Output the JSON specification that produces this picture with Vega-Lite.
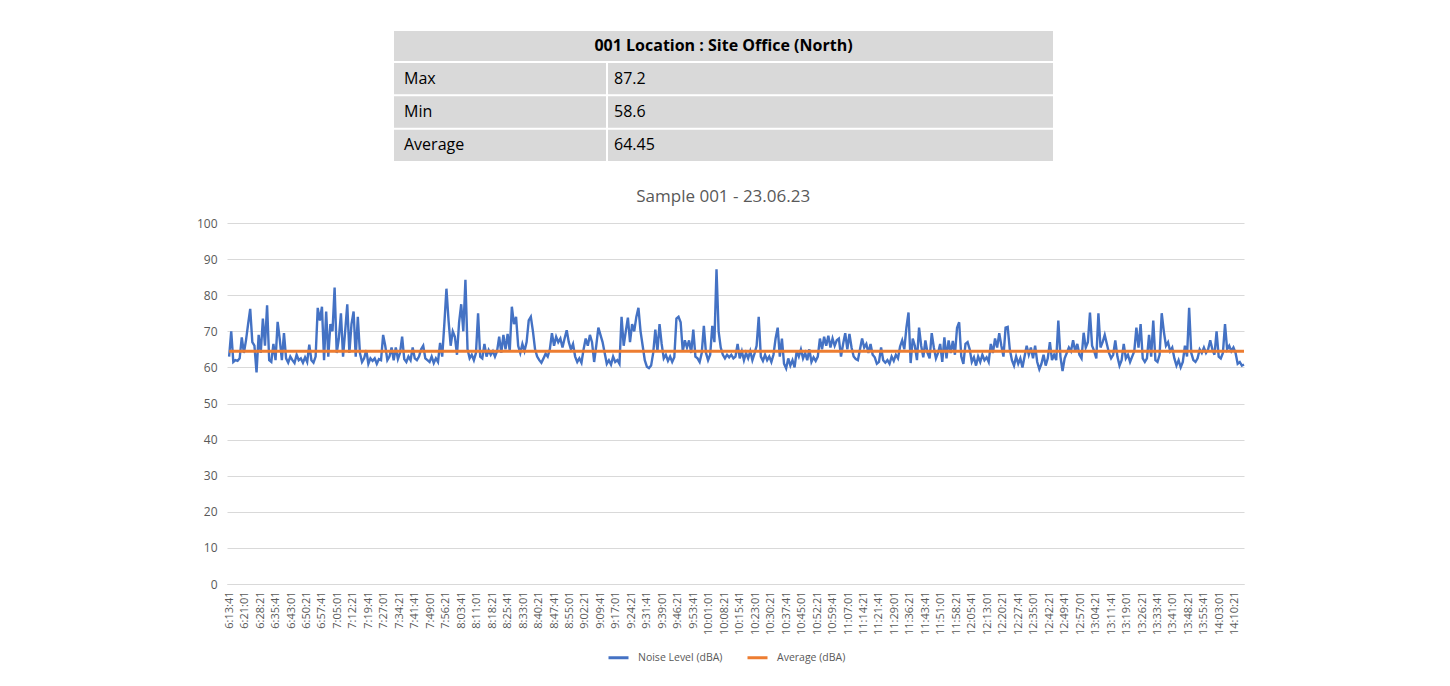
{
"$schema": "https://vega.github.io/schema/vega-lite/v6.json",
"background": "white",
"padding": {"left": 196, "top": 31, "right": 0, "bottom": 0},
"config": {"font": "Open Sans", "view": {"stroke": null}},
"datasets": {
"stats": [{"stat": "Max", "value": 87.2}, {"stat": "Min", "value": 58.6}, {"stat": "Average", "value": 64.45}],
"avg": [{"t": "6:13:41", "v": 64.45}, {"t": "14:14:41", "v": 64.45}],
"noise": [
{"t":"6:13:41","v":63},{"t":"6:14:41","v":70},{"t":"6:15:41","v":61.5},{"t":"6:16:41","v":62},{"t":"6:17:41","v":61.8},{"t":"6:18:41","v":62.5},{"t":"6:19:41","v":68.3},{"t":"6:20:41","v":64},{"t":"6:21:41","v":67.5},{"t":"6:22:41","v":72},{"t":"6:23:41","v":76.2},{"t":"6:24:41","v":67},{"t":"6:25:41","v":66},{"t":"6:26:41","v":58.6},{"t":"6:27:41","v":69},{"t":"6:28:41","v":64},{"t":"6:29:41","v":73.5},{"t":"6:30:41","v":66},{"t":"6:31:41","v":77.2},{"t":"6:32:41","v":62},{"t":"6:33:41","v":61.5},{"t":"6:34:41","v":66.5},{"t":"6:35:41","v":62},{"t":"6:36:41","v":72.6},{"t":"6:37:41","v":67.8},{"t":"6:38:41","v":62},{"t":"6:39:41","v":69.5},{"t":"6:40:41","v":62.5},{"t":"6:41:41","v":61.3},{"t":"6:42:41","v":63},{"t":"6:43:41","v":62},{"t":"6:44:41","v":61.2},{"t":"6:45:41","v":63.5},{"t":"6:46:41","v":62},{"t":"6:47:41","v":62.5},{"t":"6:48:41","v":61.3},{"t":"6:49:41","v":62.8},{"t":"6:50:41","v":61.5},{"t":"6:51:41","v":66.3},{"t":"6:52:41","v":62},{"t":"6:53:41","v":61.3},{"t":"6:54:41","v":63},{"t":"6:55:41","v":76.5},{"t":"6:56:41","v":73},{"t":"6:57:41","v":76.8},{"t":"6:58:41","v":62},{"t":"6:59:41","v":75.5},
{"t":"7:00:41","v":63},{"t":"7:01:41","v":72},{"t":"7:02:41","v":70},{"t":"7:03:41","v":82.1},{"t":"7:04:41","v":64},{"t":"7:05:41","v":68},{"t":"7:06:41","v":75},{"t":"7:07:41","v":63},{"t":"7:08:41","v":70},{"t":"7:09:41","v":77.5},{"t":"7:10:41","v":64},{"t":"7:11:41","v":72},{"t":"7:12:41","v":75.5},{"t":"7:13:41","v":63},{"t":"7:14:41","v":74},{"t":"7:15:41","v":64},{"t":"7:16:41","v":61.5},{"t":"7:17:41","v":62.5},{"t":"7:18:41","v":64.8},{"t":"7:19:41","v":61},{"t":"7:20:41","v":62.5},{"t":"7:21:41","v":61.8},{"t":"7:22:41","v":62.5},{"t":"7:23:41","v":61},{"t":"7:24:41","v":62.3},{"t":"7:25:41","v":62},{"t":"7:26:41","v":69},{"t":"7:27:41","v":66},{"t":"7:28:41","v":62},{"t":"7:29:41","v":63},{"t":"7:30:41","v":65.5},{"t":"7:31:41","v":62},{"t":"7:32:41","v":65.5},{"t":"7:33:41","v":62.3},{"t":"7:34:41","v":64},{"t":"7:35:41","v":68.5},{"t":"7:36:41","v":62.3},{"t":"7:37:41","v":61.5},{"t":"7:38:41","v":63},{"t":"7:39:41","v":62},{"t":"7:40:41","v":65.5},{"t":"7:41:41","v":62.5},{"t":"7:42:41","v":62},{"t":"7:43:41","v":63},{"t":"7:44:41","v":65},{"t":"7:45:41","v":66},{"t":"7:46:41","v":62.5},{"t":"7:47:41","v":62},{"t":"7:48:41","v":61.5},{"t":"7:49:41","v":63},{"t":"7:50:41","v":61.2},{"t":"7:51:41","v":62.5},{"t":"7:52:41","v":61.5},{"t":"7:53:41","v":66.8},{"t":"7:54:41","v":63},{"t":"7:55:41","v":72},{"t":"7:56:41","v":81.8},{"t":"7:57:41","v":73},{"t":"7:58:41","v":66},{"t":"7:59:41","v":70},
{"t":"8:00:41","v":68.5},{"t":"8:01:41","v":63.5},{"t":"8:02:41","v":72.5},{"t":"8:03:41","v":77.5},{"t":"8:04:41","v":70},{"t":"8:05:41","v":84.3},{"t":"8:06:41","v":65},{"t":"8:07:41","v":62.5},{"t":"8:08:41","v":63.5},{"t":"8:09:41","v":62},{"t":"8:10:41","v":64},{"t":"8:11:41","v":75},{"t":"8:12:41","v":63},{"t":"8:13:41","v":62.5},{"t":"8:14:41","v":66.5},{"t":"8:15:41","v":63},{"t":"8:16:41","v":64.8},{"t":"8:17:41","v":63.5},{"t":"8:18:41","v":64.5},{"t":"8:19:41","v":63},{"t":"8:20:41","v":64.5},{"t":"8:21:41","v":68.5},{"t":"8:22:41","v":64},{"t":"8:23:41","v":69},{"t":"8:24:41","v":65},{"t":"8:25:41","v":69.3},{"t":"8:26:41","v":64.5},{"t":"8:27:41","v":76.8},{"t":"8:28:41","v":72},{"t":"8:29:41","v":74},{"t":"8:30:41","v":66},{"t":"8:31:41","v":64},{"t":"8:32:41","v":66.5},{"t":"8:33:41","v":64.5},{"t":"8:34:41","v":67},{"t":"8:35:41","v":73},{"t":"8:36:41","v":74},{"t":"8:37:41","v":70},{"t":"8:38:41","v":65},{"t":"8:39:41","v":63},{"t":"8:40:41","v":62},{"t":"8:41:41","v":61.3},{"t":"8:42:41","v":62.5},{"t":"8:43:41","v":63.8},{"t":"8:44:41","v":63},{"t":"8:45:41","v":65},{"t":"8:46:41","v":69.5},{"t":"8:47:41","v":66},{"t":"8:48:41","v":68.5},{"t":"8:49:41","v":67},{"t":"8:50:41","v":68},{"t":"8:51:41","v":65.5},{"t":"8:52:41","v":68},{"t":"8:53:41","v":70.3},{"t":"8:54:41","v":67},{"t":"8:55:41","v":65},{"t":"8:56:41","v":66.5},{"t":"8:57:41","v":63},{"t":"8:58:41","v":61.5},{"t":"8:59:41","v":62.5},
{"t":"9:00:41","v":61.3},{"t":"9:01:41","v":65},{"t":"9:02:41","v":68},{"t":"9:03:41","v":66},{"t":"9:04:41","v":69},{"t":"9:05:41","v":67},{"t":"9:06:41","v":61.5},{"t":"9:07:41","v":66},{"t":"9:08:41","v":71},{"t":"9:09:41","v":69},{"t":"9:10:41","v":67},{"t":"9:11:41","v":64},{"t":"9:12:41","v":61},{"t":"9:13:41","v":62},{"t":"9:14:41","v":60.8},{"t":"9:15:41","v":63},{"t":"9:16:41","v":61.5},{"t":"9:17:41","v":62},{"t":"9:18:41","v":61},{"t":"9:19:41","v":74},{"t":"9:20:41","v":66},{"t":"9:21:41","v":70},{"t":"9:22:41","v":73.8},{"t":"9:23:41","v":67},{"t":"9:24:41","v":72},{"t":"9:25:41","v":70},{"t":"9:26:41","v":74},{"t":"9:27:41","v":76.5},{"t":"9:28:41","v":70},{"t":"9:29:41","v":66},{"t":"9:30:41","v":62},{"t":"9:31:41","v":60.2},{"t":"9:32:41","v":59.8},{"t":"9:33:41","v":60.5},{"t":"9:34:41","v":64},{"t":"9:35:41","v":70.5},{"t":"9:36:41","v":64.5},{"t":"9:37:41","v":72},{"t":"9:38:41","v":66.5},{"t":"9:39:41","v":62.5},{"t":"9:40:41","v":63.5},{"t":"9:41:41","v":61.8},{"t":"9:42:41","v":63},{"t":"9:43:41","v":61.5},{"t":"9:44:41","v":62.8},{"t":"9:45:41","v":73.5},{"t":"9:46:41","v":74},{"t":"9:47:41","v":72.5},{"t":"9:48:41","v":64.5},{"t":"9:49:41","v":67.5},{"t":"9:50:41","v":65.5},{"t":"9:51:41","v":67.5},{"t":"9:52:41","v":64},{"t":"9:53:41","v":70.5},{"t":"9:54:41","v":63},{"t":"9:55:41","v":62.5},{"t":"9:56:41","v":61.5},{"t":"9:57:41","v":64},{"t":"9:58:41","v":71.5},{"t":"9:59:41","v":64},
{"t":"10:00:41","v":62},{"t":"10:01:41","v":63.5},{"t":"10:02:41","v":71.5},{"t":"10:03:41","v":67},{"t":"10:04:41","v":87.2},{"t":"10:05:41","v":70},{"t":"10:06:41","v":65.5},{"t":"10:07:41","v":63.5},{"t":"10:08:41","v":62.5},{"t":"10:09:41","v":63.5},{"t":"10:10:41","v":62.8},{"t":"10:11:41","v":63.5},{"t":"10:12:41","v":62.5},{"t":"10:13:41","v":63},{"t":"10:14:41","v":66.5},{"t":"10:15:41","v":62.5},{"t":"10:16:41","v":64.5},{"t":"10:17:41","v":62},{"t":"10:18:41","v":64},{"t":"10:19:41","v":62.5},{"t":"10:20:41","v":64.5},{"t":"10:21:41","v":62},{"t":"10:22:41","v":63.8},{"t":"10:23:41","v":66},{"t":"10:24:41","v":74},{"t":"10:25:41","v":63},{"t":"10:26:41","v":61.8},{"t":"10:27:41","v":63.5},{"t":"10:28:41","v":62},{"t":"10:29:41","v":63},{"t":"10:30:41","v":61.5},{"t":"10:31:41","v":63.5},{"t":"10:32:41","v":68},{"t":"10:33:41","v":71},{"t":"10:34:41","v":63},{"t":"10:35:41","v":68},{"t":"10:36:41","v":61},{"t":"10:37:41","v":59.7},{"t":"10:38:41","v":62.5},{"t":"10:39:41","v":60.5},{"t":"10:40:41","v":62},{"t":"10:41:41","v":60},{"t":"10:42:41","v":64.5},{"t":"10:43:41","v":63},{"t":"10:44:41","v":65},{"t":"10:45:41","v":62.5},{"t":"10:46:41","v":64},{"t":"10:47:41","v":62},{"t":"10:48:41","v":65},{"t":"10:49:41","v":61.5},{"t":"10:50:41","v":62.8},{"t":"10:51:41","v":61.8},{"t":"10:52:41","v":63},{"t":"10:53:41","v":68},{"t":"10:54:41","v":65},{"t":"10:55:41","v":68.5},{"t":"10:56:41","v":66},{"t":"10:57:41","v":68.8},{"t":"10:58:41","v":65.5},{"t":"10:59:41","v":68},
{"t":"11:00:41","v":66},{"t":"11:01:41","v":67.5},{"t":"11:02:41","v":68},{"t":"11:03:41","v":63},{"t":"11:04:41","v":66.5},{"t":"11:05:41","v":69.5},{"t":"11:06:41","v":65},{"t":"11:07:41","v":69.3},{"t":"11:08:41","v":65.5},{"t":"11:09:41","v":63},{"t":"11:10:41","v":62.3},{"t":"11:11:41","v":62},{"t":"11:12:41","v":65},{"t":"11:13:41","v":68},{"t":"11:14:41","v":65.5},{"t":"11:15:41","v":66.5},{"t":"11:16:41","v":64},{"t":"11:17:41","v":66.5},{"t":"11:18:41","v":63.5},{"t":"11:19:41","v":62.8},{"t":"11:20:41","v":61},{"t":"11:21:41","v":61.5},{"t":"11:22:41","v":65.5},{"t":"11:23:41","v":62},{"t":"11:24:41","v":61.3},{"t":"11:25:41","v":62},{"t":"11:26:41","v":61},{"t":"11:27:41","v":63},{"t":"11:28:41","v":61.8},{"t":"11:29:41","v":63.5},{"t":"11:30:41","v":62.5},{"t":"11:31:41","v":65.8},{"t":"11:32:41","v":67.5},{"t":"11:33:41","v":65},{"t":"11:34:41","v":71},{"t":"11:35:41","v":75.2},{"t":"11:36:41","v":61.2},{"t":"11:37:41","v":68},{"t":"11:38:41","v":66},{"t":"11:39:41","v":62},{"t":"11:40:41","v":71},{"t":"11:41:41","v":66},{"t":"11:42:41","v":62.8},{"t":"11:43:41","v":67.5},{"t":"11:44:41","v":64},{"t":"11:45:41","v":62.5},{"t":"11:46:41","v":69.5},{"t":"11:47:41","v":65.5},{"t":"11:48:41","v":62.5},{"t":"11:49:41","v":64},{"t":"11:50:41","v":66.5},{"t":"11:51:41","v":61.5},{"t":"11:52:41","v":68.3},{"t":"11:53:41","v":62.5},{"t":"11:54:41","v":67.5},{"t":"11:55:41","v":64},{"t":"11:56:41","v":67.3},{"t":"11:57:41","v":63.5},{"t":"11:58:41","v":71},{"t":"11:59:41","v":72.5},
{"t":"12:00:41","v":63},{"t":"12:01:41","v":61},{"t":"12:02:41","v":66.5},{"t":"12:03:41","v":67},{"t":"12:04:41","v":65},{"t":"12:05:41","v":61.5},{"t":"12:06:41","v":62.8},{"t":"12:07:41","v":60.5},{"t":"12:08:41","v":63},{"t":"12:09:41","v":61.5},{"t":"12:10:41","v":63.5},{"t":"12:11:41","v":62},{"t":"12:12:41","v":62.8},{"t":"12:13:41","v":61.5},{"t":"12:14:41","v":66.5},{"t":"12:15:41","v":64},{"t":"12:16:41","v":68},{"t":"12:17:41","v":65.5},{"t":"12:18:41","v":69.5},{"t":"12:19:41","v":66},{"t":"12:20:41","v":63},{"t":"12:21:41","v":71},{"t":"12:22:41","v":71.2},{"t":"12:23:41","v":65},{"t":"12:24:41","v":62},{"t":"12:25:41","v":60.5},{"t":"12:26:41","v":63},{"t":"12:27:41","v":61},{"t":"12:28:41","v":62.5},{"t":"12:29:41","v":60},{"t":"12:30:41","v":63},{"t":"12:31:41","v":66},{"t":"12:32:41","v":63.5},{"t":"12:33:41","v":65.5},{"t":"12:34:41","v":62.5},{"t":"12:35:41","v":66},{"t":"12:36:41","v":61.5},{"t":"12:37:41","v":59.5},{"t":"12:38:41","v":61},{"t":"12:39:41","v":63.5},{"t":"12:40:41","v":60.5},{"t":"12:41:41","v":62.5},{"t":"12:42:41","v":67},{"t":"12:43:41","v":62},{"t":"12:44:41","v":63.5},{"t":"12:45:41","v":62},{"t":"12:46:41","v":73},{"t":"12:47:41","v":63},{"t":"12:48:41","v":59},{"t":"12:49:41","v":62.5},{"t":"12:50:41","v":64},{"t":"12:51:41","v":65.5},{"t":"12:52:41","v":64.5},{"t":"12:53:41","v":67.5},{"t":"12:54:41","v":64.5},{"t":"12:55:41","v":66.5},{"t":"12:56:41","v":63.5},{"t":"12:57:41","v":62.5},{"t":"12:58:41","v":69.6},{"t":"12:59:41","v":65.5},
{"t":"13:00:41","v":67},{"t":"13:01:41","v":75.2},{"t":"13:02:41","v":66},{"t":"13:03:41","v":64.5},{"t":"13:04:41","v":62.5},{"t":"13:05:41","v":75},{"t":"13:06:41","v":65.5},{"t":"13:07:41","v":67},{"t":"13:08:41","v":69},{"t":"13:09:41","v":66.5},{"t":"13:10:41","v":64},{"t":"13:11:41","v":62.5},{"t":"13:12:41","v":63.5},{"t":"13:13:41","v":67.5},{"t":"13:14:41","v":63},{"t":"13:15:41","v":60.5},{"t":"13:16:41","v":62},{"t":"13:17:41","v":66.5},{"t":"13:18:41","v":62.5},{"t":"13:19:41","v":63.5},{"t":"13:20:41","v":61.5},{"t":"13:21:41","v":63},{"t":"13:22:41","v":64.5},{"t":"13:23:41","v":71},{"t":"13:24:41","v":65.5},{"t":"13:25:41","v":72},{"t":"13:26:41","v":62.5},{"t":"13:27:41","v":61.5},{"t":"13:28:41","v":62.5},{"t":"13:29:41","v":69},{"t":"13:30:41","v":63},{"t":"13:31:41","v":73},{"t":"13:32:41","v":62},{"t":"13:33:41","v":61.5},{"t":"13:34:41","v":63.5},{"t":"13:35:41","v":75},{"t":"13:36:41","v":70},{"t":"13:37:41","v":66},{"t":"13:38:41","v":67},{"t":"13:39:41","v":64.5},{"t":"13:40:41","v":65.5},{"t":"13:41:41","v":62.5},{"t":"13:42:41","v":60.5},{"t":"13:43:41","v":62},{"t":"13:44:41","v":60},{"t":"13:45:41","v":61.5},{"t":"13:46:41","v":66},{"t":"13:47:41","v":63},{"t":"13:48:41","v":76.5},{"t":"13:49:41","v":64},{"t":"13:50:41","v":62},{"t":"13:51:41","v":61.5},{"t":"13:52:41","v":62.5},{"t":"13:53:41","v":65},{"t":"13:54:41","v":64},{"t":"13:55:41","v":65.5},{"t":"13:56:41","v":64},{"t":"13:57:41","v":65},{"t":"13:58:41","v":67.5},{"t":"13:59:41","v":65},
{"t":"14:00:41","v":63.5},{"t":"14:01:41","v":70},{"t":"14:02:41","v":63},{"t":"14:03:41","v":62.5},{"t":"14:04:41","v":64},{"t":"14:05:41","v":72},{"t":"14:06:41","v":65},{"t":"14:07:41","v":66},{"t":"14:08:41","v":64.5},{"t":"14:09:41","v":65.5},{"t":"14:10:41","v":64},{"t":"14:11:41","v":61},{"t":"14:12:41","v":61.5},{"t":"14:13:41","v":60.5},{"t":"14:14:41","v":60.8}
]
},
"spacing": 27,
"vconcat": [
{
"spacing": 0,
"hconcat": [
{
"width": 167, "height": 10,
"data": {"values": [{"s": 1}]},
"mark": {"type": "point", "opacity": 0},
"encoding": {}
},
{
"spacing": 2,
"vconcat": [
{
"width": 659, "height": 30,
"data": {"values": [{"title": "001 Location : Site Office (North)"}]},
"encoding": {
"x": {"field": "title", "type": "nominal", "axis": null, "scale": {"paddingInner": 0, "paddingOuter": 0}},
"y": {"field": "title", "type": "nominal", "axis": null, "scale": {"paddingInner": 0, "paddingOuter": 0}}
},
"layer": [
{"mark": {"type": "rect", "fill": "#d9d9d9"}},
{"mark": {"type": "text", "fontSize": 16, "fontWeight": "bold", "color": "#000000"}, "encoding": {"text": {"field": "title"}}}
]
},
{
"spacing": 2,
"hconcat": [
{
"width": 212, "height": 98,
"data": {"name": "stats"},
"encoding": {
"x": {"datum": "label", "type": "nominal", "axis": null, "scale": {"paddingInner": 0, "paddingOuter": 0}},
"y": {"field": "stat", "type": "nominal", "sort": null, "axis": null, "scale": {"paddingInner": 0.06, "paddingOuter": 0}}
},
"layer": [
{"mark": {"type": "rect", "fill": "#d9d9d9"}},
{"mark": {"type": "text", "align": "left", "dx": 10, "fontSize": 16, "color": "#000000"}, "encoding": {"x": {"datum": "label", "type": "nominal", "bandPosition": 0}, "text": {"field": "stat"}}}
]
},
{
"width": 445, "height": 98,
"data": {"name": "stats"},
"encoding": {
"x": {"datum": "value", "type": "nominal", "axis": null, "scale": {"paddingInner": 0, "paddingOuter": 0}},
"y": {"field": "stat", "type": "nominal", "sort": null, "axis": null, "scale": {"paddingInner": 0.06, "paddingOuter": 0}}
},
"layer": [
{"mark": {"type": "rect", "fill": "#d9d9d9"}},
{"mark": {"type": "text", "align": "left", "dx": 6, "fontSize": 16, "color": "#000000"}, "encoding": {"x": {"datum": "value", "type": "nominal", "bandPosition": 0}, "text": {"field": "value", "type": "quantitative", "format": ".2~f"}}}
]
}
]
}
]
}
]
},
{
"width": 1017, "height": 361,
"title": {"text": "Sample 001 - 23.06.23", "frame": "bounds", "anchor": "middle", "fontSize": 17, "fontWeight": "normal", "color": "#595959", "offset": 11},
"encoding": {
"x": {"field": "t", "type": "temporal", "scale": {"type": "utc", "domain": [-2208966439000, -2208937519000]},
"axis": {"title": null, "labelExpr": "utcFormat(datum.value, '%-H:%M:%S')", "labelAngle": -90, "labelFontSize": 11, "labelColor": "#595959", "labelPadding": 7, "labelFlush": false, "labelOverlap": false, "labelLimit": 200, "grid": false, "ticks": false, "domain": true, "domainColor": "#d9d9d9",
"values": [-2208966379000,-2208965939000,-2208965499000,-2208965059000,-2208964619000,-2208964179000,-2208963739000,-2208963299000,-2208962859000,-2208962419000,-2208961979000,-2208961539000,-2208961099000,-2208960659000,-2208960219000,-2208959779000,-2208959339000,-2208958899000,-2208958459000,-2208958019000,-2208957579000,-2208957139000,-2208956699000,-2208956259000,-2208955819000,-2208955379000,-2208954939000,-2208954499000,-2208954059000,-2208953619000,-2208953179000,-2208952739000,-2208952299000,-2208951859000,-2208951419000,-2208950979000,-2208950539000,-2208950099000,-2208949659000,-2208949219000,-2208948779000,-2208948339000,-2208947899000,-2208947459000,-2208947019000,-2208946579000,-2208946139000,-2208945699000,-2208945259000,-2208944819000,-2208944379000,-2208943939000,-2208943499000,-2208943059000,-2208942619000,-2208942179000,-2208941739000,-2208941299000,-2208940859000,-2208940419000,-2208939979000,-2208939539000,-2208939099000,-2208938659000,-2208938219000,-2208937779000]}},
"y": {"field": "v", "type": "quantitative", "scale": {"domain": [0, 100]},
"axis": {"title": null, "values": [0,10,20,30,40,50,60,70,80,90,100], "grid": true, "gridColor": "#d9d9d9", "domain": false, "ticks": false, "labelFontSize": 12, "labelColor": "#595959", "labelPadding": 10}}
},
"layer": [
{
"data": {"name": "noise", "format": {"parse": {"t": "utc:'%H:%M:%S'"}}},
"mark": {"type": "line", "strokeWidth": 2.4},
"encoding": {
"color": {"datum": "Noise Level (dBA)", "type": "nominal",
"scale": {"domain": ["Noise Level (dBA)", "Average (dBA)"], "range": ["#4472C4", "#ED7D31"]},
"legend": {"title": null, "orient": "none", "legendX": 380, "legendY": 615, "direction": "horizontal", "symbolType": "stroke", "symbolSize": 400, "symbolStrokeWidth": 3, "labelFontSize": 10.5, "labelColor": "#595959", "columnPadding": 18, "labelOffset": 8}}
}
},
{
"data": {"name": "avg", "format": {"parse": {"t": "utc:'%H:%M:%S'"}}},
"mark": {"type": "line", "strokeWidth": 3},
"encoding": {
"color": {"datum": "Average (dBA)", "type": "nominal"}
}
}
]
}
]
}
